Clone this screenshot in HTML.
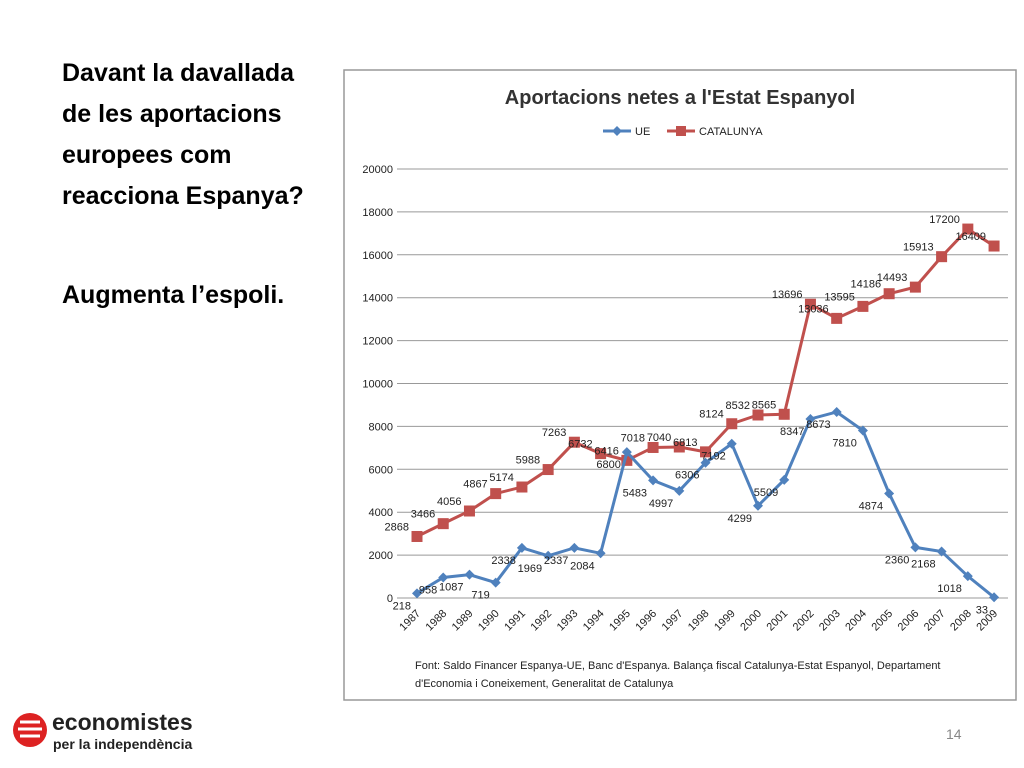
<!DOCTYPE html>
<html><head><meta charset="utf-8"><style>
body{margin:0;width:1024px;height:768px;background:#fff;position:relative;overflow:hidden;font-family:"Liberation Sans",sans-serif}
.q{position:absolute;left:62px;font-weight:bold;font-size:25px;line-height:41px;color:#000}
</style></head><body>
<div class="q" style="top:53px">Davant la davallada<br>de les aportacions<br>europees com<br>reacciona Espanya?</div>
<div class="q" style="top:275px">Augmenta l’espoli.</div>
<div style="position:absolute;left:12px;top:712px">
<svg width="36" height="36"><circle cx="18" cy="18" r="17" fill="#d22"/><path d="M8 10h20M6 17h24M8 24h20" stroke="#fff" stroke-width="3"/></svg>
<div style="position:absolute;left:40px;top:-3px;font-weight:bold;font-size:23px;color:#222;white-space:nowrap">economistes</div>
<div style="position:absolute;left:41px;top:24px;font-weight:bold;font-size:14px;color:#222;white-space:nowrap">per la independència</div>
</div>
<div style="position:absolute;left:946px;top:726px;font-size:14px;color:#888">14</div>
<svg id="c" width="1024" height="768" style="position:absolute;left:0;top:0"></svg>
<script>
const years=["1987","1988","1989","1990","1991","1992","1993","1994","1995","1996","1997","1998","1999","2000","2001","2002","2003","2004","2005","2006","2007","2008","2009"];
const ue=[218,958,1087,719,2338,1969,2337,2084,6800,5483,4997,6306,7192,4299,5509,8347,8673,7810,4874,2360,2168,1018,33];
const cat=[2868,3466,4056,4867,5174,5988,7263,6732,6416,7018,7040,6813,8124,8532,8565,13696,13036,13595,14186,14493,15913,17200,16409];
const yTicks=[0,2000,4000,6000,8000,10000,12000,14000,16000,18000,20000];
const NS="http://www.w3.org/2000/svg",svg=document.getElementById('c');
const X=i=>417+i*26.23, Y=v=>598-v*0.02145;
function mk(t,a,p){const e=document.createElementNS(NS,t);for(const k in a)e.setAttribute(k,a[k]);(p||svg).appendChild(e);return e;}
const box=mk('rect',{x:344,y:70,width:672,height:630,fill:'#fff',stroke:'#999','stroke-width':1.5});


const t=mk('text',{x:680,y:104,'text-anchor':'middle','font-size':20,'font-weight':'bold',fill:'#333','font-family':'Liberation Sans'});t.textContent="Aportacions netes a l'Estat Espanyol";


yTicks.forEach(v=>{const l=mk('line',{x1:397,x2:1008,y1:Y(v),y2:Y(v),stroke:'#999','stroke-width':1});


const tx=mk('text',{x:393,y:Y(v)+4,'text-anchor':'end','font-size':11,fill:'#222'});tx.textContent=v;

});
years.forEach((y,i)=>{const tx=mk('text',{x:X(i)+4,y:614,'text-anchor':'end','font-size':11,fill:'#222',transform:`rotate(-45 ${X(i)+4} 614)`});tx.textContent=y;

});
function series(d,col,name,sq,dx,dy){
 const pl=mk('polyline',{points:d.map((v,i)=>X(i)+','+Y(v)).join(' '),fill:'none',stroke:col,'stroke-width':3});
 
 
 d.forEach((v,i)=>{let m;
  if(sq)m=mk('rect',{x:X(i)-5.5,y:Y(v)-5.5,width:11,height:11,fill:col});
  else m=mk('path',{d:`M${X(i)} ${Y(v)-5}l5 5l-5 5l-5 -5z`,fill:col});
  
  
  const tx=mk('text',{x:X(i)+dx,y:Y(v)+dy,'text-anchor':'end','font-size':11,fill:'#222'});tx.textContent=v;
  
  });
}
series(cat,'#c0504d','catalunya',true,-8,-6);
series(ue,'#4f81bd','ue',false,-6,16);
const lg=mk('g',{});


mk('line',{x1:603,x2:631,y1:131,y2:131,stroke:'#4f81bd','stroke-width':3},lg);
mk('path',{d:'M617 126l5 5l-5 5l-5 -5z',fill:'#4f81bd'},lg);
let a=mk('text',{x:635,y:135,'font-size':11,fill:'#222'},lg);a.textContent='UE';
mk('line',{x1:667,x2:695,y1:131,y2:131,stroke:'#c0504d','stroke-width':3},lg);
mk('rect',{x:676,y:126,width:10,height:10,fill:'#c0504d'},lg);
a=mk('text',{x:699,y:135,'font-size':11,fill:'#222'},lg);a.textContent='CATALUNYA';
const f1=mk('text',{x:415,y:669,'font-size':11,fill:'#222'});f1.textContent="Font: Saldo Financer Espanya-UE, Banc d'Espanya. Balança fiscal Catalunya-Estat Espanyol, Departament";


const f2=mk('text',{x:415,y:687,'font-size':11,fill:'#222'});f2.textContent="d'Economia i Coneixement, Generalitat de Catalunya";


</script>
</body></html>
